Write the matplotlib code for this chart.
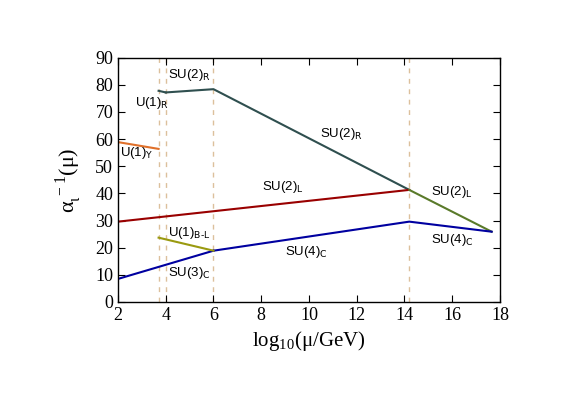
import matplotlib
matplotlib.use("Agg")
import matplotlib.pyplot as plt

# thresholds (log10 mu / GeV)
thresholds = [3.7, 4.0, 6.0, 14.2]

# running couplings, piecewise segments
u1y_x, u1y_y = [2.0, 3.7], [58.9, 56.4]
u1r_x, u1r_y = [3.7, 4.0], [77.8, 77.2]
su2r_x, su2r_y = [4.0, 6.0, 14.2], [77.2, 78.4, 41.3]
su2l_x, su2l_y = [2.0, 14.2], [29.6, 41.3]
su2lr_x, su2lr_y = [14.2, 17.65], [41.3, 25.9]
su3c_x, su3c_y = [2.0, 6.0], [8.5, 18.9]
su4c_x, su4c_y = [6.0, 14.2, 17.65], [18.9, 29.6, 25.9]
ubl_x, ubl_y = [3.7, 6.0], [23.7, 18.9]

labels = [
    ("U(1)", "Y", 2.08, 54.9),
    ("U(1)", "R", 2.7, 73.3),
    ("SU(2)", "R", 4.1, 83.6),
    ("SU(2)", "R", 10.45, 61.9),
    ("SU(2)", "L", 8.05, 42.4),
    ("SU(2)", "L", 15.1, 40.5),
    ("U(1)", "B-L", 4.1, 25.4),
    ("SU(3)", "C", 4.1, 10.7),
    ("SU(4)", "C", 9.0, 18.4),
    ("SU(4)", "C", 15.1, 22.8),
]

plt.rcParams["font.family"] = ["Liberation Serif", "DejaVu Serif"]

fig = plt.figure(figsize=(5.85, 4.13), dpi=100)
ax = fig.add_axes([0.2017, 0.2688, 0.6530, 0.5915])

for t in thresholds:
    ax.axvline(t, color="#dcc09c", lw=1.0, ls=(0, (3.5, 4)), zorder=1)

lw = 1.5
ax.plot(u1y_x, u1y_y, color="#e0702a", lw=lw)
ax.plot(u1r_x, u1r_y, color="#2f4f4f", lw=lw)
ax.plot(su2r_x, su2r_y, color="#2f4f4f", lw=lw)
ax.plot(su2l_x, su2l_y, color="#990000", lw=lw)
ax.plot(su2lr_x, su2lr_y, color="#5a7a2a", lw=lw)
ax.plot(su3c_x, su3c_y, color="#0000a0", lw=lw)
ax.plot(su4c_x, su4c_y, color="#0000a0", lw=lw)
ax.plot(ubl_x, ubl_y, color="#9a9a10", lw=lw)

for name, sub, x, y in labels:
    ax.text(x, y, name + r"$_\text{" + sub + "}$",
            family="Liberation Sans", fontsize=9.5, va="center", ha="left")

ax.set_xlim(2, 18)
ax.set_ylim(0, 90)
ax.set_xticks(range(2, 19, 2))
ax.set_yticks(range(0, 91, 10))
ax.tick_params(direction="in", length=5, top=True, right=True, labelsize=13)
for sp in ax.spines.values():
    sp.set_linewidth(1.0)

ax.set_xlabel(r"log$_\mathregular{10}$(μ/GeV)", fontsize=15, labelpad=4)
ax.set_ylabel(r"α$_\mathregular{ι}^\mathregular{\,-1}$(μ)", fontsize=16, labelpad=8)

fig.savefig("out.png", dpi=100)
